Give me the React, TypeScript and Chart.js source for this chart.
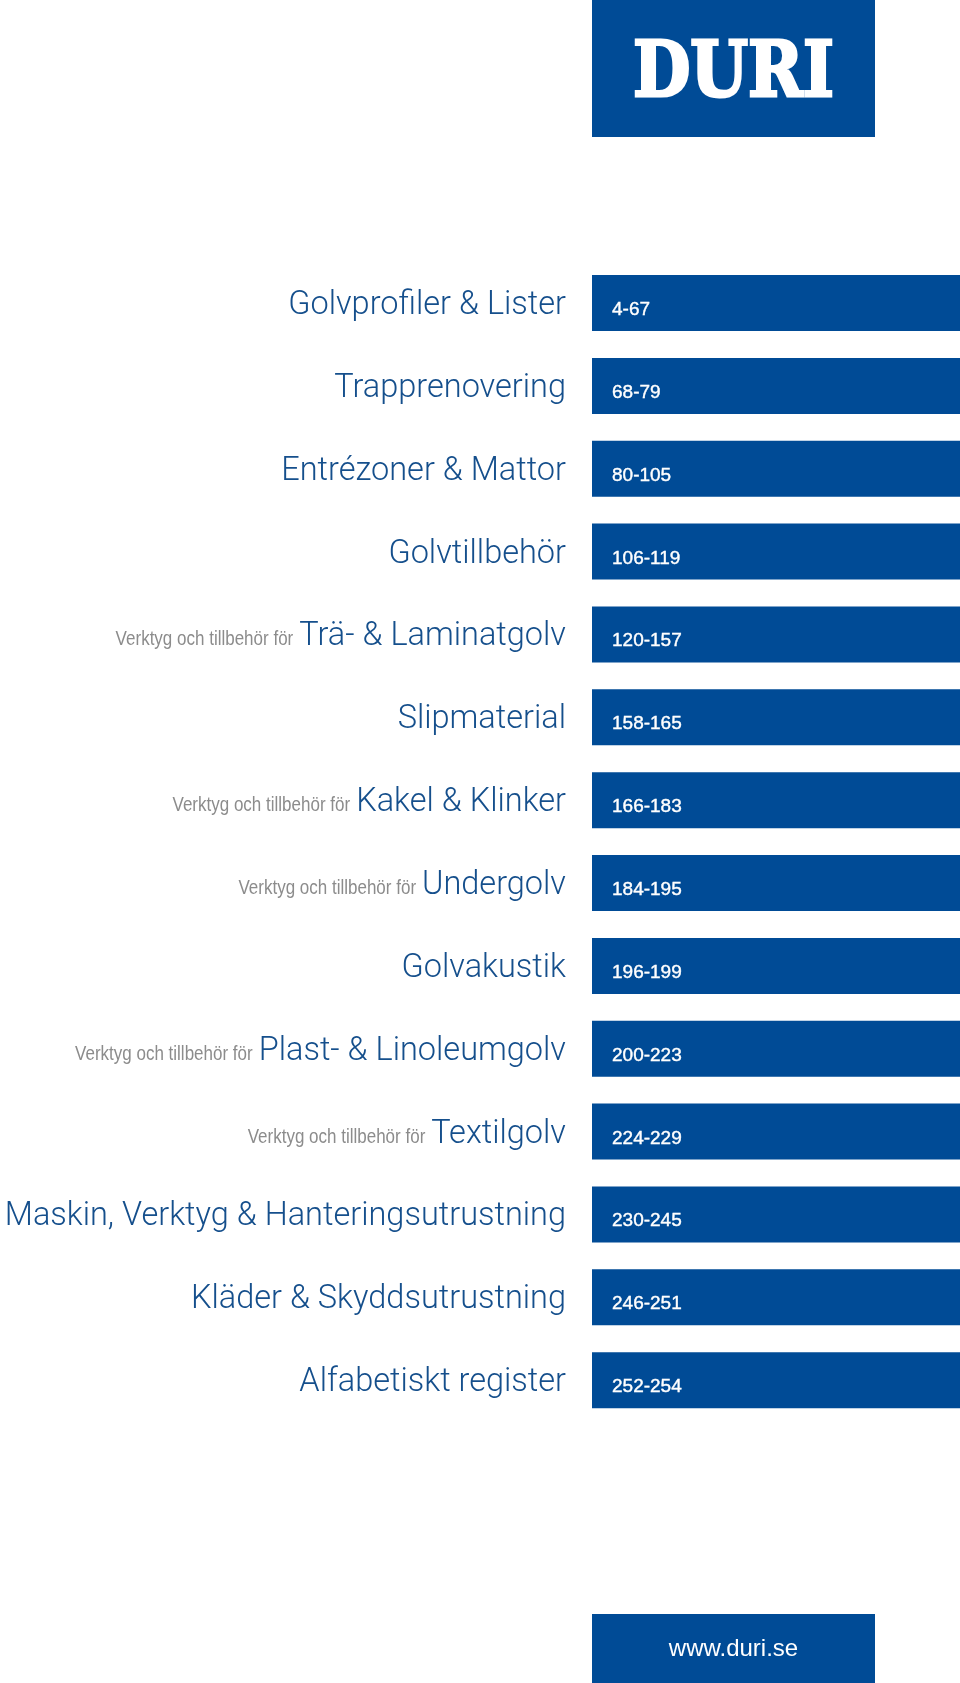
import React, { useEffect, useRef } from 'react';
import { Chart, registerables } from 'chart.js';

Chart.register(...registerables);

// ---- data ----
const sectionTitles = [
  'Golvprofiler & Lister',
  'Trapprenovering',
  'Entrézoner & Mattor',
  'Golvtillbehör',
  'Trä- & Laminatgolv',
  'Slipmaterial',
  'Kakel & Klinker',
  'Undergolv',
  'Golvakustik',
  'Plast- & Linoleumgolv',
  'Textilgolv',
  'Maskin, Verktyg & Hanteringsutrustning',
  'Kläder & Skyddsutrustning',
  'Alfabetiskt register',
];
const titlePrefixes = [
  '', '', '', '',
  'Verktyg och tillbehör för',
  '',
  'Verktyg och tillbehör för',
  'Verktyg och tillbehör för',
  '',
  'Verktyg och tillbehör för',
  'Verktyg och tillbehör för',
  '', '', '',
];
const pageStart = [4, 68, 80, 106, 120, 158, 166, 184, 196, 200, 224, 230, 246, 252];
const pageEnd = [67, 79, 105, 119, 157, 165, 183, 195, 199, 223, 229, 245, 251, 254];
const tabLength = [1, 1, 1, 1, 1, 1, 1, 1, 1, 1, 1, 1, 1, 1];
const brandName = 'DURI';
const websiteUrl = 'www.duri.se';

// ---- style ----
const BLUE = '#004b96';
const TITLE_COLOR = '#154f8c';
const PREFIX_COLOR = '#8c8c8c';
const W = 960;
const H = 1683;

const decorPlugin = {
  id: 'decor',
  beforeDraw(chart: any) {
    const ctx = chart.ctx;
    ctx.save();
    ctx.fillStyle = '#ffffff';
    ctx.fillRect(0, 0, W, H);
    // logo box and url box
    ctx.fillStyle = BLUE;
    ctx.fillRect(592, 0, 283, 137);
    ctx.fillRect(592, 1614, 283, 69);
    ctx.fillStyle = '#ffffff';
    ctx.strokeStyle = '#ffffff';
    ctx.textAlign = 'center';
    ctx.textBaseline = 'alphabetic';
    ctx.save();
    ctx.translate(733.5, 96);
    ctx.scale(0.86, 1);
    ctx.font = 'bold 77px "DejaVu Serif"';
    ctx.lineWidth = 3;
    ctx.lineJoin = 'miter';
    ctx.fillText(brandName, 0, 0);
    ctx.strokeText(brandName, 0, 0);
    ctx.restore();
    ctx.font = '24px "Liberation Sans", Arial, sans-serif';
    ctx.fillText(websiteUrl, 733.5, 1656);
    ctx.restore();
  },
  afterDatasetsDraw(chart: any) {
    const ctx = chart.ctx;
    const meta = chart.getDatasetMeta(0);
    ctx.save();
    ctx.textBaseline = 'alphabetic';
    meta.data.forEach((bar: any, i: number) => {
      const y = bar.y;
      const left = Math.min(bar.base, bar.x);
      // page range inside the tab
      ctx.save();
      ctx.fillStyle = '#ffffff';
      ctx.strokeStyle = '#ffffff';
      ctx.lineWidth = 0.4;
      ctx.textAlign = 'left';
      ctx.font = '19px "Liberation Sans", Arial, sans-serif';
      const range = `${pageStart[i]}-${pageEnd[i]}`;
      ctx.fillText(range, left + 20, y + 12);
      ctx.strokeText(range, left + 20, y + 12);
      ctx.restore();
      // title
      const right = left - 26;
      ctx.fillStyle = TITLE_COLOR;
      ctx.textAlign = 'right';
      ctx.font = '300 32.5px Roboto, "Liberation Sans", sans-serif';
      const title = sectionTitles[i];
      ctx.fillText(title, right, y + 11);
      const tw = ctx.measureText(title).width;
      const prefix = titlePrefixes[i];
      if (prefix) {
        ctx.save();
        ctx.fillStyle = PREFIX_COLOR;
        ctx.font = '20px "Liberation Sans", Arial, sans-serif';
        ctx.translate(right - tw - 6, y + 11);
        ctx.scale(0.85, 1);
        ctx.textAlign = 'right';
        ctx.fillText(prefix, 0, 0);
        ctx.restore();
      }
    });
    ctx.restore();
  },
};

export default function App() {
  const ref = useRef<HTMLCanvasElement | null>(null);
  useEffect(() => {
    if (!ref.current) return;
    const chart = new Chart(ref.current, {
      type: 'bar',
      data: {
        labels: sectionTitles,
        datasets: [
          {
            data: tabLength,
            backgroundColor: BLUE,
            borderWidth: 0,
            barPercentage: 0.676,
            categoryPercentage: 1,
          },
        ],
      },
      options: {
        indexAxis: 'y',
        responsive: false,
        animation: false,
        layout: { padding: { left: 592, right: 0, top: 261.6, bottom: 261.4 } },
        scales: {
          x: { display: false, min: 0, max: 1 },
          y: { display: false },
        },
        plugins: {
          legend: { display: false },
          tooltip: { enabled: false },
        },
      },
      plugins: [decorPlugin],
    } as any);
    return () => chart.destroy();
  }, []);
  return (
    <div style={{ position: 'absolute', left: 0, top: 0, width: W, height: H, background: '#fff' }}>
      <canvas ref={ref} width={W} height={H} style={{ display: 'block', width: W, height: H }} />
    </div>
  );
}
